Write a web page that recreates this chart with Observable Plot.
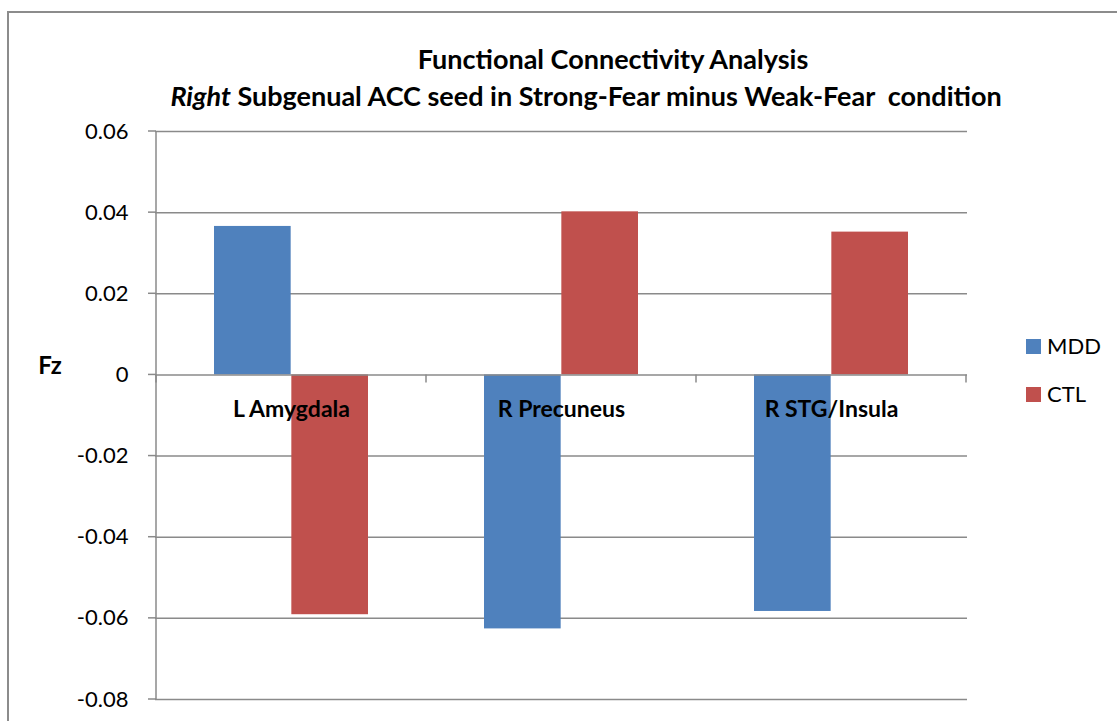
<!DOCTYPE html>
<html>
<head>
<meta charset="utf-8">
<script src="https://cdn.jsdelivr.net/npm/d3@7"></script>
<script src="https://cdn.jsdelivr.net/npm/@observablehq/plot@0.6"></script>
<style>
  html, body { margin: 0; padding: 0; background: #fff; }
  #chart { position: relative; width: 1117px; height: 721px; overflow: hidden; font-family: Lato, "Open Sans", sans-serif; color: #000; }
  #chart svg { position: absolute; left: 0; top: 0; }
  .outline { position: absolute; left: 7px; top: 11px; width: 1200px; height: 800px; border-left: 2px solid #8c8c8c; border-top: 2px solid #8c8c8c; }
  .title { position: absolute; font-weight: 700; white-space: pre; line-height: 1; transform: translate(-50%, -50%); }
  .ylabel { position: absolute; left: 50px; top: 365px; font-weight: 700; font-size: 24px; line-height: 1; transform: translate(-50%, -50%); }
  .legend { position: absolute; left: 1026px; top: 0; }
  .legend .row { position: absolute; left: 0; display: flex; align-items: center; white-space: nowrap; font-size: 22px; line-height: 1; transform: translateY(-50%); }
  .legend .sw { width: 15px; height: 15px; margin-right: 6px; }
</style>
</head>
<body>
<div id="chart"></div>
<script>
// Fz values per region for each group
const categories = ["L Amygdala", "R Precuneus", "R STG/Insula"];
const series = ["MDD", "CTL"];
const mddValues = [0.0366, -0.0626, -0.0583];
const ctlValues = [-0.0591, 0.0402, 0.0352];
const yTicks = [0.06, 0.04, 0.02, 0, -0.02, -0.04, -0.06, -0.08];
const seriesColors = ["#4F81BD", "#C0504D"];

const titleLine1 = "Functional Connectivity Analysis";
const titleLine2Italic = "Right";
const titleLine2Rest = " Subgenual ACC seed in Strong-Fear minus Weak-Fear  condition";
const yLabel = "Fz";

const rows = categories.flatMap((category, i) => [
  {category, series: "MDD", value: mddValues[i]},
  {category, series: "CTL", value: ctlValues[i]}
]);

const W = 1117, H = 721;
const margin = {left: 155, right: 150, top: 131, bottom: 22};
const GRID = "#8a8a8a";
const TICK = 8;

// Clustered columns: two bars per category with a 150% gap width
const band = (W - margin.left - margin.right) / categories.length;
const barW = band / (series.length + 1.5);
const outer = barW * 0.75;

const fmt = d => d === 0 ? "0" : d.toFixed(2);

// Vertical axis line with its ticks, and the short ticks separating categories on the zero line
function axisLines(index, scales) {
  const {x, y} = scales;
  const g = d3.create("svg:g").attr("stroke", GRID).attr("stroke-width", 1.5).attr("fill", "none");
  const bw = x.bandwidth();
  const left = x(categories[0]);
  g.append("line").attr("x1", left).attr("x2", left).attr("y1", y(yTicks[0])).attr("y2", y(yTicks[yTicks.length - 1]));
  for (const t of yTicks) {
    g.append("line").attr("x1", left - TICK).attr("x2", left).attr("y1", y(t)).attr("y2", y(t));
  }
  const edges = categories.map(c => x(c)).concat([x(categories[categories.length - 1]) + bw]);
  for (const e of edges) {
    g.append("line").attr("x1", e).attr("x2", e).attr("y1", y(0)).attr("y2", y(0) + TICK);
  }
  return g.node();
}

const chart = Plot.plot({
  width: W,
  height: H,
  marginLeft: margin.left,
  marginRight: margin.right,
  marginTop: margin.top,
  marginBottom: margin.bottom,
  style: {fontFamily: "Lato, 'Open Sans', sans-serif", background: "transparent", color: "#000"},
  x: {domain: categories, padding: 0, axis: null},
  y: {domain: [-0.08, 0.06], axis: null},
  color: {domain: series, range: seriesColors},
  marks: [
    Plot.ruleY(yTicks.filter(d => d !== 0), {stroke: GRID, strokeWidth: 1.5}),
    Plot.text(yTicks, {y: d => d, text: fmt, frameAnchor: "left", textAnchor: "end", dx: -(TICK + 19), fontSize: 22, fill: "#000"}),
    Plot.barY(rows.filter(d => d.series === "MDD"), {x: "category", y: "value", fill: "series", insetLeft: outer, insetRight: outer + barW}),
    Plot.barY(rows.filter(d => d.series === "CTL"), {x: "category", y: "value", fill: "series", insetLeft: outer + barW, insetRight: outer}),
    Plot.ruleY([0], {stroke: GRID, strokeWidth: 1.5}),
    axisLines,
    Plot.text(categories, {x: d => d, y: 0, dy: 35, text: d => d, fontWeight: "bold", fontSize: 23, fill: "#000"})
  ]
});

const root = document.getElementById("chart");
root.appendChild(chart);

const outline = document.createElement("div");
outline.className = "outline";
root.appendChild(outline);

const t1 = document.createElement("div");
t1.className = "title";
t1.style.left = "613px";
t1.style.top = "58px";
t1.style.fontSize = "27px";
t1.textContent = titleLine1;
root.appendChild(t1);

const t2 = document.createElement("div");
t2.className = "title";
t2.style.left = "586px";
t2.style.top = "95px";
t2.style.fontSize = "27px";
const it = document.createElement("i");
it.textContent = titleLine2Italic;
t2.appendChild(it);
t2.appendChild(document.createTextNode(titleLine2Rest));
root.appendChild(t2);

const yl = document.createElement("div");
yl.className = "ylabel";
yl.textContent = yLabel;
root.appendChild(yl);

const legend = document.createElement("div");
legend.className = "legend";
root.appendChild(legend);
const legendY = [346, 394];
series.forEach((s, i) => {
  const row = document.createElement("div");
  row.className = "row";
  row.style.top = legendY[i] + "px";
  const sw = document.createElement("div");
  sw.className = "sw";
  sw.style.background = seriesColors[i];
  const label = document.createElement("span");
  label.textContent = s;
  row.appendChild(sw);
  row.appendChild(label);
  legend.appendChild(row);
});
</script>
</body>
</html>
